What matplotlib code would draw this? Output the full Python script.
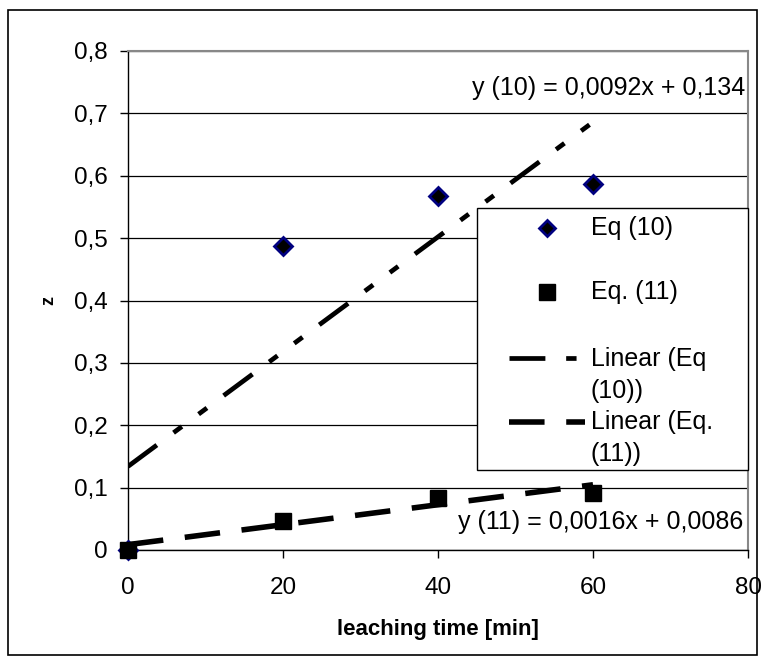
import matplotlib.pyplot as plt
from matplotlib.patches import Rectangle
from matplotlib.ticker import FuncFormatter

# data
time_min = [0, 20, 40, 60]
z_eq10 = [0.0, 0.487, 0.568, 0.587]
z_eq11 = [0.0, 0.047, 0.083, 0.092]

fit10 = (0.0092, 0.134)
fit11 = (0.0016, 0.0086)
fit_x = [0, 60]

x_ticks = [0, 20, 40, 60, 80]
y_ticks = [0, 0.1, 0.2, 0.3, 0.4, 0.5, 0.6, 0.7, 0.8]

eq10_text = 'y (10) = 0,0092x + 0,134'
eq11_text = 'y (11) = 0,0016x + 0,0086'
legend_labels = ['Eq (10)', 'Eq. (11)', 'Linear (Eq\n(10))', 'Linear (Eq.\n(11))']

dash10 = (7.6, 4.4, 2.2, 4.4, 2.2, 4.4)
dash11 = (6.4, 3.9)

plt.rcParams['font.family'] = ['Liberation Sans', 'DejaVu Sans']

W, H = 765, 663
fig = plt.figure(figsize=(W / 100, H / 100), dpi=100)
# plot area in pixels: x 128..748, y 51..550
AX_L, AX_R, AX_T, AX_B = 128, 748, 51, 550
ax = fig.add_axes([AX_L / W, (H - AX_B) / H, (AX_R - AX_L) / W, (AX_B - AX_T) / H])


def ax_pt(px, py):
    # pixel position -> axes fraction
    return (px - AX_L) / (AX_R - AX_L), (AX_B - py) / (AX_B - AX_T)


# outer chart border
fig.patches.append(Rectangle((8 / W, 8 / H), 749 / W, 645 / H,
                             transform=fig.transFigure, fill=False,
                             edgecolor='black', linewidth=1.2))

ax.set_xlim(0, 80)
ax.set_ylim(0, 0.8)
ax.set_xticks(x_ticks)
ax.set_yticks(y_ticks)
ax.yaxis.set_major_formatter(FuncFormatter(lambda v, p: ('%g' % round(v, 1)).replace('.', ',')))
ax.tick_params(axis='both', labelsize=17.5, length=5.8, width=1, color='black')
ax.tick_params(axis='y', pad=8.6)
ax.tick_params(axis='x', pad=14)
ax.grid(axis='y', color='black', linewidth=0.9)
ax.set_axisbelow(True)

for s in ['top', 'right']:
    ax.spines[s].set_color('#888888')
    ax.spines[s].set_linewidth(1.5)
for s in ['left', 'bottom']:
    ax.spines[s].set_color('black')
    ax.spines[s].set_linewidth(1)

# trend lines
y10 = [fit10[0] * x + fit10[1] for x in fit_x]
y11 = [fit11[0] * x + fit11[1] for x in fit_x]
ax.plot(fit_x, y10, color='black', linewidth=3.4, dashes=dash10, zorder=3)
ax.plot(fit_x, y11, color='black', linewidth=4, dashes=dash11, zorder=3)

# data points
ax.plot(time_min, z_eq10, linestyle='none', marker='D', markersize=9,
        markerfacecolor='black', markeredgecolor='#000080', markeredgewidth=2,
        zorder=4, clip_on=False)
ax.plot(time_min, z_eq11, linestyle='none', marker='s', markersize=11,
        color='black', zorder=5, clip_on=False)

ax.text(79.6, 0.741, eq10_text, ha='right', va='center', fontsize=18)
ax.text(79.35, 0.045, eq11_text, ha='right', va='center', fontsize=18)

ax.set_xlabel('leaching time [min]', fontsize=16, fontweight='bold', labelpad=14)
ax.set_ylabel('z', fontsize=13, fontweight='bold', labelpad=12)

# legend box (drawn by hand to keep Excel's fixed entry slots)
x0, y0 = ax_pt(477, 470)
x1, y1 = ax_pt(748, 208)
ax.add_patch(Rectangle((x0, y0), x1 - x0, y1 - y0, transform=ax.transAxes,
                       facecolor='white', edgecolor='black', linewidth=1,
                       zorder=6, clip_on=False))

kw = dict(transform=ax.transAxes, clip_on=False, zorder=7)
mx, my = ax_pt(547, 228)
ax.plot([mx], [my], linestyle='none', marker='D', markersize=8.5, markerfacecolor='black',
        markeredgecolor='#000080', markeredgewidth=2, **kw)
mx, my = ax_pt(547, 292)
ax.plot([mx], [my], linestyle='none', marker='s', markersize=11, color='black', **kw)
hx0, hy = ax_pt(509, 358)
hx1, _ = ax_pt(577, 358)
ax.plot([hx0, hx1], [hy, hy], color='black', linewidth=3.4, dashes=dash10, **kw)
hx0, hy = ax_pt(509, 422)
hx1, _ = ax_pt(585, 422)
ax.plot([hx0, hx1], [hy, hy], color='black', linewidth=4, dashes=dash11, **kw)

for label, py in zip(legend_labels, [228, 292, 375, 438]):
    tx, ty = ax_pt(591, py)
    ax.text(tx, ty, label, ha='left', va='center', fontsize=18, linespacing=1.45, **kw)

fig.savefig('out.png', dpi=100)
